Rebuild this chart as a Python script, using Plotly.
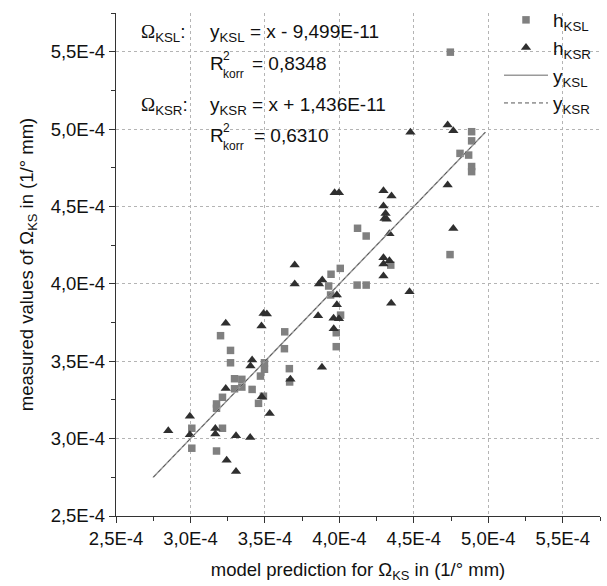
import plotly.graph_objects as go

SCALE = 1e-4  # values below are given in units of 1E-4 (1/° mm)

# h_KSL: model prediction vs. measured value (squares)
ksl_pred = [4.888, 4.888, 4.810, 4.868, 4.888, 4.888, 4.743, 4.122, 4.180, 4.345,
            4.006, 3.944, 4.119, 4.180, 3.928, 3.941, 4.008, 3.979, 3.633, 3.202,
            3.269, 3.631, 3.979, 3.269, 3.497, 3.497, 3.664, 3.470, 3.296, 3.345,
            3.666, 3.345, 3.296, 3.414, 3.215, 3.175, 3.175, 3.457, 3.490, 3.009,
            3.215, 3.009, 3.175, 4.745]
ksl_meas = [4.983, 4.924, 4.843, 4.832, 4.758, 4.725, 4.189, 4.359, 4.309, 4.121,
            4.100, 4.062, 3.992, 3.992, 3.986, 3.928, 3.798, 3.684, 3.690, 3.665,
            3.570, 3.581, 3.594, 3.490, 3.490, 3.448, 3.452, 3.404, 3.387, 3.383,
            3.366, 3.333, 3.322, 3.318, 3.267, 3.224, 3.196, 3.228, 3.274, 3.067,
            3.067, 2.938, 2.920, 5.497]

# h_KSR: model prediction vs. measured value (triangles)
ksr_pred = [4.727, 4.765, 4.477, 4.727, 4.765, 3.968, 3.997, 4.296, 4.350, 4.296,
            4.310, 4.303, 4.318, 4.336, 4.296, 4.336, 4.296, 4.296, 4.471, 4.348,
            3.983, 3.983, 3.961, 3.997, 3.962, 3.700, 3.700, 3.863, 3.885, 3.491,
            3.513, 3.857, 3.477, 3.237, 3.414, 3.403, 3.883, 3.671, 3.237, 3.479,
            3.532, 2.996, 2.851, 3.167, 3.167, 2.996, 3.306, 3.401, 3.243, 3.306]
ksr_meas = [5.026, 4.989, 4.980, 4.638, 4.357, 4.588, 4.588, 4.601, 4.567, 4.503,
            4.455, 4.423, 4.417, 4.324, 4.169, 4.149, 4.128, 4.050, 3.949, 3.874,
            3.928, 3.865, 3.777, 3.774, 3.710, 4.121, 3.999, 3.999, 4.025, 3.809,
            3.805, 3.794, 3.727, 3.745, 3.508, 3.469, 3.461, 3.383, 3.324, 3.271,
            3.163, 3.144, 3.051, 3.065, 3.030, 3.025, 3.019, 3.008, 2.860, 2.788]

# regression lines y = x + offset
fit_x = [2.75, 4.98]
ksl_offset = -9.499e-11
ksr_offset = 1.436e-11

# axis ticks
tick_vals = [2.5, 3.0, 3.5, 4.0, 4.5, 5.0, 5.5]
tick_text = ["2,5E-4", "3,0E-4", "3,5E-4", "4,0E-4", "4,5E-4", "5,0E-4", "5,5E-4"]
axis_range = [2.5, 5.75]

FONT = "Liberation Sans, Arial, sans-serif"
SERIF = "Liberation Serif"

W, H = 607, 586
L, R, T, B = 116, 7, 13, 70
PW, PH = W - L - R, H - T - B


def px(x):
    return (x - L) / PW


def py(y):
    return (H - B - y) / PH


fig = go.Figure()

fig.add_trace(go.Scatter(
    x=[v * SCALE for v in ksl_pred], y=[v * SCALE for v in ksl_meas],
    mode="markers", name="h<sub>KSL</sub>", legendrank=1,
    marker=dict(symbol="square", size=7.5, color="#808080"),
))
fig.add_trace(go.Scatter(
    x=[v * SCALE for v in ksr_pred], y=[v * SCALE for v in ksr_meas],
    mode="markers", name="h<sub>KSR</sub>", legendrank=2,
    marker=dict(symbol="triangle-up", size=9, color="#2f2f2f"),
))
fig.add_trace(go.Scatter(
    x=[v * SCALE for v in fit_x], y=[v * SCALE + ksl_offset for v in fit_x],
    mode="lines", name="y<sub>KSL</sub>", legendrank=3,
    line=dict(color="#9a9a9a", width=1.5),
))
fig.add_trace(go.Scatter(
    x=[v * SCALE for v in fit_x], y=[v * SCALE + ksr_offset for v in fit_x],
    mode="lines", name="y<sub>KSR</sub>", legendrank=4,
    line=dict(color="#555555", width=1, dash="4px,3px"),
))

axis_common = dict(
    range=[v * SCALE for v in axis_range],
    tickmode="array",
    tickvals=[v * SCALE for v in tick_vals],
    ticktext=tick_text,
    ticks="outside", ticklen=6, tickwidth=1, tickcolor="#333333",
    minor=dict(tickmode="linear", tick0=2.5 * SCALE, dtick=0.25 * SCALE,
               ticks="outside", ticklen=4, tickcolor="#333333", showgrid=False),
    showline=True, linecolor="#333333", linewidth=1.3,
    showgrid=True, gridcolor="#b4b4b4", gridwidth=1, griddash="dot",
    zeroline=False, automargin=False,
    tickfont=dict(family=FONT, size=18.5, color="#111111"),
)

fig.update_xaxes(**axis_common,
                 title=dict(text="model prediction for Ω<sub>KS</sub> in (1/° mm)",
                            font=dict(family=FONT, size=18.5, color="#111111"),
                            standoff=14))
fig.update_yaxes(**axis_common,
                 title=dict(text="measured values of Ω<sub>KS</sub> in (1/° mm)",
                            font=dict(family=FONT, size=18.5, color="#111111"),
                            standoff=12))

# white panels behind the equation block and legend
for x0, y0, x1, y1 in [(128, 13, 365, 152), (480, 0, 607, 120), (487, 118, 532, 155)]:
    fig.add_shape(type="rect", xref="paper", yref="paper",
                  x0=px(x0), x1=px(min(x1, L + PW)), y0=py(y1), y1=py(max(y0, T)),
                  fillcolor="white", line=dict(width=0), layer="between")

serif_omega = f"<span style='font-family:{SERIF}'>Ω</span>"
notes = [
    (139, 33, f"{serif_omega}<sub>KSL</sub>:", 19),
    (208, 33, "y<sub>KSL</sub> = x - 9,499E-11", 19),
    (208, 63, "R", 19), (221, 56, "2", 12), (221, 74, "korr", 12),
    (250, 63, "= 0,8348", 19),
    (139, 106, f"{serif_omega}<sub>KSR</sub>:", 19),
    (208, 106, "y<sub>KSR</sub> = x + 1,436E-11", 19),
    (208, 135, "R", 19), (221, 128, "2", 12), (221, 146, "korr", 12),
    (252, 135, "= 0,6310", 19),
]
for x, y, text, size in notes:
    fig.add_annotation(x=px(x), y=py(y), xref="paper", yref="paper",
                       xanchor="left", yanchor="middle", showarrow=False,
                       text=text, font=dict(family=FONT, size=size, color="#111111"))

fig.update_layout(
    width=W, height=H,
    margin=dict(l=L, r=R, t=T, b=B, autoexpand=False),
    paper_bgcolor="white", plot_bgcolor="white",
    font=dict(family=FONT, size=18.5, color="#111111"),
    legend=dict(x=499 / W, y=1 - 1 / H, xref="container", yref="container",
                xanchor="left", yanchor="top",
                bgcolor="rgba(255,255,255,0)", borderwidth=0,
                itemwidth=44,
                font=dict(family=FONT, size=19, color="#111111"),
                tracegroupgap=0),
    showlegend=True,
)

fig.write_html("out.html")
